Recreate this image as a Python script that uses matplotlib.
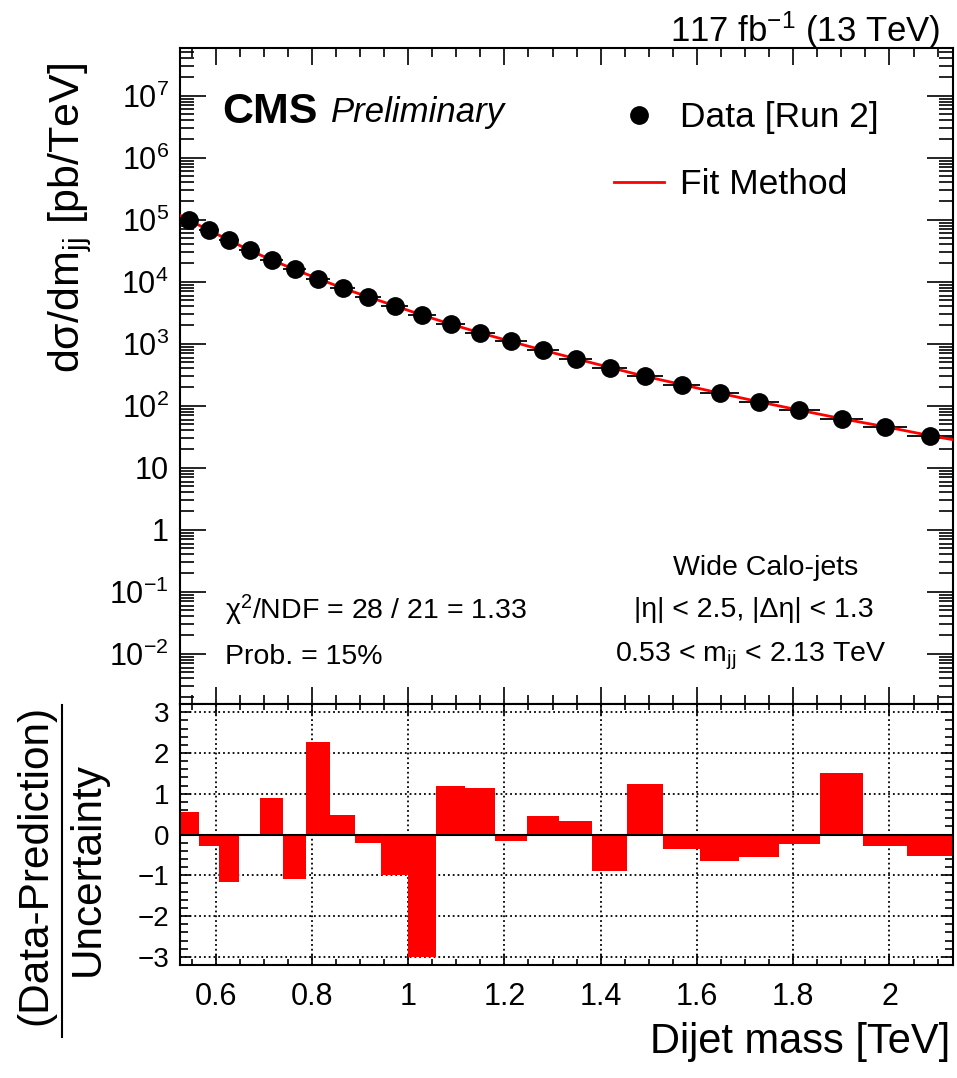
import numpy as np
import matplotlib
matplotlib.use('Agg')
import matplotlib.pyplot as plt
from matplotlib.lines import Line2D
from matplotlib.ticker import LogLocator, FixedLocator, MultipleLocator, NullFormatter, FuncFormatter

plt.rcParams['font.family'] = ['Liberation Sans', 'DejaVu Sans']
plt.rcParams['mathtext.fontset'] = 'custom'
plt.rcParams['mathtext.rm'] = 'Liberation Sans'
plt.rcParams['mathtext.it'] = 'Liberation Sans:italic'
plt.rcParams['mathtext.bf'] = 'Liberation Sans:bold'

# dijet mass bins [TeV]
bin_edges = [0.526, 0.565, 0.606, 0.649, 0.693, 0.740, 0.788, 0.838, 0.890, 0.944, 1.000,
             1.058, 1.118, 1.181, 1.246, 1.313, 1.383, 1.455, 1.530, 1.607, 1.687, 1.770,
             1.856, 1.945, 2.037, 2.132]
# dsigma/dmjj [pb/TeV]
data_xsec = [9.8e4, 6.8e4, 4.7e4, 3.2e4, 2.25e4, 1.58e4, 1.12e4, 7.9e3, 5.7e3, 4.07e3,
             2.88e3, 2.09e3, 1.51e3, 1.09e3, 795, 575, 413, 300, 220, 160,
             116, 85, 62, 46, 33]
# fit curve: low edge, bin centres, high edge
fit_xsec = [1.18e5, 9.8e4, 6.8e4, 4.7e4, 3.2e4, 2.25e4, 1.58e4, 1.12e4, 7.9e3, 5.7e3, 4.1e3,
            2.9e3, 2.08e3, 1.5e3, 1.09e3, 790, 575, 415, 298, 220, 160,
            116, 85, 62, 46, 33, 28.4]
# (data - prediction) / uncertainty
pulls = [0.56, -0.29, -1.16, 0.01, 0.90, -1.09, 2.28, 0.48, -0.20, -1.00,
         -3.00, 1.20, 1.13, -0.15, 0.45, 0.33, -0.90, 1.24, -0.35, -0.66,
         -0.55, -0.23, 1.52, -0.28, -0.53]
# decades labelled on the cross-section axis
decades = list(range(-2, 8))

edges = np.array(bin_edges)
centres = 0.5 * (edges[:-1] + edges[1:])
half = 0.5 * np.diff(edges)
fit_mass = np.concatenate([[edges[0]], centres, [edges[-1]]])

fig = plt.figure(figsize=(9.57, 10.78), dpi=100)
ax1 = fig.add_axes([0.1881, 0.3469, 0.8077, 0.6086])
ax2 = fig.add_axes([0.1881, 0.1048, 0.8077, 0.2421])

#--- top panel
ax1.errorbar(centres, data_xsec, xerr=half, fmt='none', ecolor='k', elinewidth=1.3, zorder=2)
ax1.plot(fit_mass, fit_xsec, color='red', lw=2.0, zorder=3)
ax1.plot(centres, data_xsec, 'o', color='k', ms=12.5, zorder=4)
ax1.set_yscale('log')
ax1.set_xlim(edges[0], edges[-1])
ax1.set_ylim(10**-2.81, 10**7.77)
ax1.yaxis.set_major_locator(FixedLocator([10.0**e for e in decades]))
ax1.yaxis.set_minor_locator(LogLocator(base=10, subs=np.arange(2, 10), numticks=100))
ax1.yaxis.set_minor_formatter(NullFormatter())

def log_label(v, pos):
	e = int(round(np.log10(v)))
	if e == 0:
		return '1'
	if e == 1:
		return '10'
	return '$10^{%d}$' % e
ax1.yaxis.set_major_formatter(FuncFormatter(log_label))
ax1.xaxis.set_major_locator(MultipleLocator(0.2))
ax1.xaxis.set_minor_locator(MultipleLocator(0.05))
ax1.tick_params(axis='x', which='both', direction='in', top=True, bottom=True, labelbottom=False)
ax1.tick_params(axis='x', which='major', length=12, width=1.2)
ax1.tick_params(axis='x', which='minor', length=6.5, width=1.2)
ax1.tick_params(axis='y', which='both', direction='in', left=True, right=True, labelsize=22, pad=8)
ax1.tick_params(axis='y', which='major', length=19, width=1.2)
ax1.tick_params(axis='y', which='minor', length=10, width=1.2)

handles = [Line2D([], [], marker='o', ls='none', color='k', ms=12.5),
           Line2D([], [], color='red', lw=2.0)]
ax1.legend(handles, ['Data [Run 2]', 'Fit Method'], loc='upper left', bbox_to_anchor=(0.562, 0.919),
           frameon=False, fontsize=25.5, handlelength=1.4, handletextpad=0.45,
           labelspacing=0.97, borderpad=0, borderaxespad=0)

ax1.text(0.055, 0.902, 'CMS', transform=ax1.transAxes, fontsize=31, fontweight='bold', va='center')
ax1.text(0.195, 0.902, 'Preliminary', transform=ax1.transAxes, fontsize=25, style='italic', va='center')
ax1.text(0.058, 0.143, 'χ$^{2}$/NDF = 28 / 21 = 1.33', transform=ax1.transAxes, fontsize=20.5, va='center')
ax1.text(0.058, 0.072, 'Prob. = 15%', transform=ax1.transAxes, fontsize=20.5, va='center')
ax1.text(0.757, 0.207, 'Wide Calo-jets', transform=ax1.transAxes, fontsize=20.5, ha='center', va='center')
ax1.text(0.742, 0.143, '|η| < 2.5, |Δη| < 1.3', transform=ax1.transAxes, fontsize=20.5, ha='center', va='center')
ax1.text(0.738, 0.072, '0.53 < m$_{\\mathrm{jj}}$ < 2.13 TeV', transform=ax1.transAxes, fontsize=20.5, ha='center', va='center')

fig.text(940/957, 1 - 30/1078, '117 fb$^{-1}$ (13 TeV)', fontsize=25, ha='right', va='center')
fig.text(70/957, 1 - 218/1078, 'dσ/dm$_{\\mathrm{jj}}$ [pb/TeV]', fontsize=31, rotation=90, ha='center', va='center')

#--- bottom panel
ax2.bar(edges[:-1], pulls, width=np.diff(edges), align='edge', color='red', edgecolor='none', zorder=2)
ax2.axhline(0, color='k', lw=1.5, zorder=3)
ax2.set_xlim(edges[0], edges[-1])
ax2.set_ylim(-3.2, 3.2)
ax2.set_axisbelow(True)
ax2.grid(True, which='major', ls=':', color='k', lw=1.3)
ax2.xaxis.set_major_locator(MultipleLocator(0.2))
ax2.xaxis.set_minor_locator(MultipleLocator(0.05))
ax2.xaxis.set_major_formatter(FuncFormatter(lambda v, p: '%g' % v))
ax2.yaxis.set_major_locator(MultipleLocator(1))
ax2.yaxis.set_minor_locator(MultipleLocator(0.2))
ax2.tick_params(axis='both', which='both', direction='in', top=True, right=True, width=1.2)
ax2.tick_params(axis='x', which='major', length=8, pad=12, labelsize=22)
ax2.tick_params(axis='x', which='minor', length=4.5)
ax2.tick_params(axis='y', which='major', length=8, pad=8, labelsize=20)
ax2.tick_params(axis='y', which='minor', length=6)

for a in (ax1, ax2):
	for s in a.spines.values():
		s.set_linewidth(1.5)

fig.text(950/957, 1 - 1042/1078, 'Dijet mass [TeV]', fontsize=30, ha='right', va='center')
fig.text(35/957, 1 - 865/1078, '(Data-Prediction)', fontsize=30.5, rotation=90, ha='center', va='center')
fig.text(88/957, 1 - 869/1078, 'Uncertainty', fontsize=30.5, rotation=90, ha='center', va='center')
fig.add_artist(Line2D([62/957, 62/957], [1 - 705/1078, 1 - 1037/1078], color='k', lw=1.5))

fig.savefig('out.png', dpi=100)
